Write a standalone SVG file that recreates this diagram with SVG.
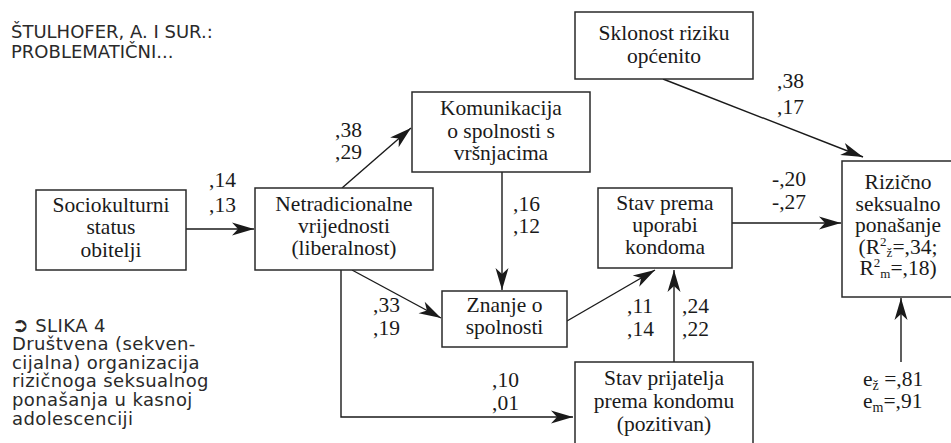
<svg xmlns="http://www.w3.org/2000/svg" width="951" height="443" viewBox="0 0 951 443">
<style>
.box{fill:#fff;stroke:#2a2a2a;stroke-width:1.5}
.t{font-family:"Liberation Serif","Times New Roman",serif;font-size:21.5px;fill:#1a1a1a;text-anchor:middle}
.n{font-family:"Liberation Serif","Times New Roman",serif;font-size:21.5px;fill:#1a1a1a}
.s{font-family:"DejaVu Sans","Liberation Sans",sans-serif;fill:#2a2a2a}
.c{fill:none;stroke:#1a1a1a;stroke-width:1.4}
</style>
<defs>
<marker id="ah" markerUnits="userSpaceOnUse" viewBox="-23 -7 24 14" refX="0" refY="0" markerWidth="24" markerHeight="14" orient="auto">
<path d="M0,0 L-22,-6.5 L-16,0 L-22,6.5 Z" fill="#1a1a1a"/>
</marker>
</defs>

<g id="header" class="s" font-size="18">
<text x="11" y="38">ŠTULHOFER, A. I SUR.:</text>
<text x="11" y="58">PROBLEMATIČNI...</text>
</g>
<g id="caption" class="s" font-size="18" letter-spacing="0.4">
<text x="12" y="332"><tspan font-size="20">➲</tspan> SLIKA 4</text>
<text x="12" y="350">Društvena (sekven-</text>
<text x="12" y="369">cijalna) organizacija</text>
<text x="12" y="387">rizičnoga seksualnog</text>
<text x="12" y="406">ponašanja u kasnoj</text>
<text x="12" y="425">adolescenciji</text>
</g>

<g id="connectors">
<line class="c" x1="186" y1="229" x2="254" y2="229" marker-end="url(#ah)"/>
<line class="c" x1="342" y1="188" x2="411" y2="128" marker-end="url(#ah)"/>
<line class="c" x1="502" y1="172" x2="502" y2="290" marker-end="url(#ah)"/>
<line class="c" x1="352" y1="270" x2="441" y2="318" marker-end="url(#ah)"/>
<polyline class="c" points="341,270 341,417 573,417" marker-end="url(#ah)"/>
<line class="c" x1="567" y1="321" x2="655" y2="270" marker-end="url(#ah)"/>
<line class="c" x1="674" y1="362" x2="674" y2="270" marker-end="url(#ah)"/>
<line class="c" x1="732" y1="223" x2="841" y2="223" marker-end="url(#ah)"/>
<line class="c" x1="663" y1="79" x2="863" y2="157" marker-end="url(#ah)"/>
<line class="c" x1="901" y1="362" x2="901" y2="298" marker-end="url(#ah)"/>
<g id="labels" class="n">
<text x="209" y="187">,14</text><text x="209" y="212">,13</text>
<text x="335" y="137">,38</text><text x="335" y="159">,29</text>
<text x="513" y="211">,16</text><text x="513" y="233">,12</text>
<text x="373" y="312">,33</text><text x="373" y="335">,19</text>
<text x="492" y="387">,10</text><text x="492" y="410">,01</text>
<text x="627" y="313">,11</text><text x="627" y="336">,14</text>
<text x="682" y="313">,24</text><text x="682" y="336">,22</text>
<text x="772" y="186">-,20</text><text x="772" y="209">-,27</text>
<text x="777" y="88">,38</text><text x="777" y="114">,17</text>
</g>
<g id="residual" class="n">
<text x="863" y="386">e<tspan font-size="14" dy="4">ž</tspan><tspan dy="-4"> =,81</tspan></text>
<text x="863" y="408">e<tspan font-size="14" dy="4">m</tspan><tspan dy="-4">=,91</tspan></text>
</g>
</g>

<g id="sociokulturni">
<rect class="box" x="36" y="190" width="150" height="80"/>
<text class="t" x="111" y="212">Sociokulturni</text>
<text class="t" x="111" y="234">status</text>
<text class="t" x="111" y="257">obitelji</text>
</g>
<g id="netradicionalne">
<rect class="box" x="255" y="188" width="178" height="82"/>
<text class="t" x="344" y="211">Netradicionalne</text>
<text class="t" x="344" y="233">vrijednosti</text>
<text class="t" x="344" y="255">(liberalnost)</text>
</g>
<g id="komunikacija">
<rect class="box" x="412" y="92" width="178" height="80"/>
<text class="t" x="501" y="115">Komunikacija</text>
<text class="t" x="501" y="138">o spolnosti s</text>
<text class="t" x="501" y="160">vršnjacima</text>
</g>
<g id="sklonost">
<rect class="box" x="575" y="12" width="178" height="67"/>
<text class="t" x="664" y="40">Sklonost riziku</text>
<text class="t" x="664" y="63">općenito</text>
</g>
<g id="stav-uporabi">
<rect class="box" x="598" y="188" width="134" height="80"/>
<text class="t" x="665" y="210">Stav prema</text>
<text class="t" x="665" y="232">uporabi</text>
<text class="t" x="665" y="254">kondoma</text>
</g>
<g id="znanje">
<rect class="box" x="442" y="291" width="125" height="56"/>
<text class="t" x="504.5" y="312">Znanje o</text>
<text class="t" x="504.5" y="334">spolnosti</text>
</g>
<g id="stav-prijatelja">
<rect class="box" x="575" y="362" width="178" height="90"/>
<text class="t" x="664" y="385">Stav prijatelja</text>
<text class="t" x="664" y="408">prema kondomu</text>
<text class="t" x="664" y="431">(pozitivan)</text>
</g>
<g id="rizicno">
<rect class="box" x="842" y="161" width="116" height="136"/>
<text class="t" x="898" y="189">Rizično</text>
<text class="t" x="898" y="211">seksualno</text>
<text class="t" x="898" y="232">ponašanje</text>
<text class="t" x="898" y="254">(R<tspan font-size="13" dy="-8">2</tspan><tspan font-size="13" dy="11">ž</tspan><tspan dy="-3">=,34;</tspan></text>
<text class="t" x="898" y="275">R<tspan font-size="13" dy="-8">2</tspan><tspan font-size="13" dy="11">m</tspan><tspan dy="-3">=,18)</tspan></text>
</g>
</svg>
